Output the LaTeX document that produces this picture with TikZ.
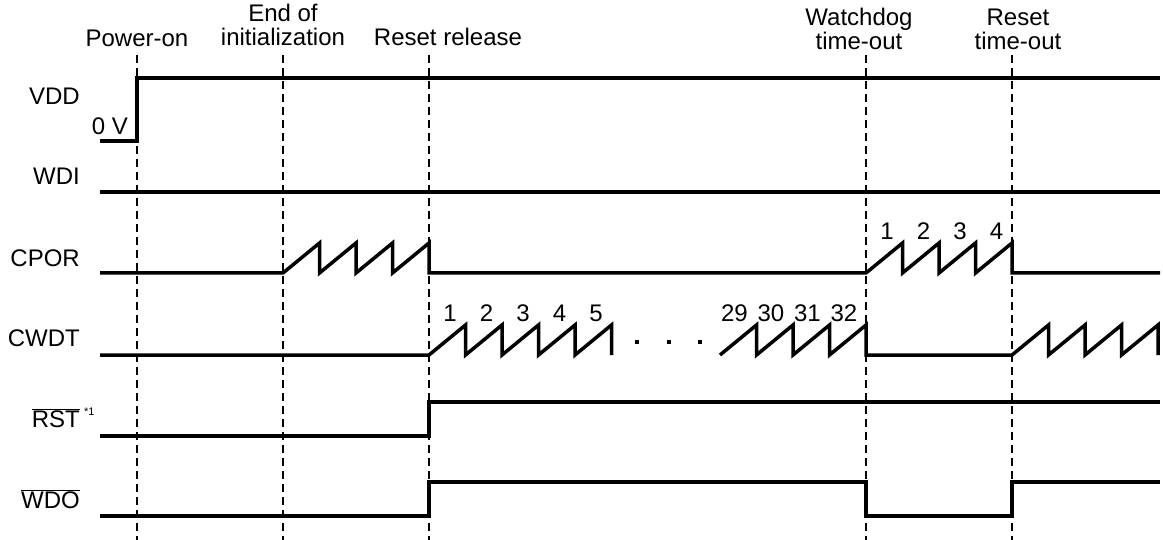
\documentclass[tikz,border=0pt]{standalone}
\usepackage{fontspec}
\setmainfont{Liberation Sans}
\usetikzlibrary{positioning}
\tikzstyle{signal} = [line width=3.5pt, line join=miter, line cap=butt]
\tikzstyle{event-line} = [line width=1.5pt, dash pattern=on 8pt off 5pt]
\tikzstyle{sig-name} = [anchor=base east, inner sep=0pt]
\tikzstyle{event-name} = [anchor=base, align=center, inner sep=0pt]
\tikzstyle{count} = [anchor=base east, inner sep=0pt]
\tikzstyle{note} = [anchor=north west, inner sep=0pt, font=\fontsize{11}{12}\selectfont]
\newcommand{\tooth}{36.5}
\newcommand{\lowact}[1]{$\overline{\mbox{#1}}$}

\begin{document}
\begin{tikzpicture}[x=1pt, y=-1pt, font=\fontsize{24}{24.5}\selectfont]
\useasboundingbox (0,0) rectangle (1163,540);
% events
\coordinate (pon) at (137,55);
\coordinate (init) at (283,55);
\coordinate (rel) at (429,55);
\coordinate (wdto) at (866,55);
\coordinate (rsto) at (1012,55);
\foreach \e in {pon,init,rel,wdto,rsto}
  \draw[event-line] (\e) -- ++(0,485);

\node[event-name] (pon-lbl) at (137,47) {Power-on};
\node[event-name] (init-lbl) at (283,46) {End of\\initialization};
\node[event-name] (rel-lbl) at (448,46) {Reset release};
\node[event-name] (wdto-lbl) at (859,50) {Watchdog\\time-out};
\node[event-name] (rsto-lbl) at (1018,50) {Reset\\time-out};

% signal names
\node[sig-name] (vdd) at (80,105) {VDD};
\node[sig-name] (wdi) at (80,185) {WDI};
\node[sig-name] (cpor) at (80,267) {CPOR};
\node[sig-name] (cwdt) at (80,347) {CWDT};
\node[sig-name] (rst) at (80,427) {\lowact{RST}};
\node[note, right=4pt of rst.north east, anchor=north west] (rst-note) {*1};
\node[sig-name] (wdo) at (80,508) {\lowact{WDO}};
\node[sig-name] (zero) at (128,135) {0 V};

% waveforms
\draw[signal] (100,141) -- (137,141) -- (137,78) -- (1160,78);
\draw[signal] (100,192) -- (1160,192);
\draw[signal] (100,273) -- (283,273)
  \foreach \i in {1,...,4} { -- ({283+\i*\tooth},243) -- ({283+\i*\tooth},273) }
  -- (866,273)
  \foreach \i in {1,...,4} { -- ({866+\i*\tooth},243) -- ({866+\i*\tooth},273) }
  -- (1160,273);
\draw[signal] (100,355) -- (429,355)
  \foreach \i in {1,...,5} { -- ({429+\i*\tooth},325) -- ({429+\i*\tooth},355) };
\draw[signal] (720,355)
  \foreach \i in {1,...,4} { -- ({720+\i*\tooth},325) -- ({720+\i*\tooth},355) }
  -- (1012,355)
  \foreach \i in {1,...,4} { -- ({1012+\i*\tooth},325) -- ({1012+\i*\tooth},355) };
\foreach \x in {636.5,668.5,700}
  \fill (\x-2,340) rectangle (\x+2,344);
\draw[signal] (100,436) -- (429,436) -- (429,402) -- (1160,402);
\draw[signal] (100,516) -- (429,516) -- (429,482) -- (866,482) -- (866,516)
  -- (1012,516) -- (1012,482) -- (1160,482);

% counts
\foreach \i in {1,...,4}
  \node[count] (cp\i) at ({866+(\i-1)*\tooth+28},240) {\i};
\foreach \i in {1,...,5}
  \node[count] (cw\i) at ({429+(\i-1)*\tooth+28},322) {\i};
\foreach \n [count=\k from 0] in {29,...,32}
  \node[count] (cw\n) at ({720+\k*\tooth+28},322) {\n};
\end{tikzpicture}
\end{document}
